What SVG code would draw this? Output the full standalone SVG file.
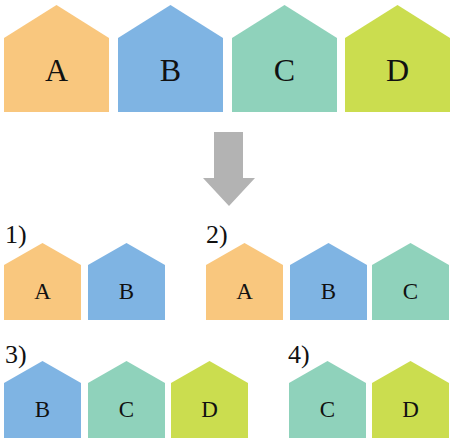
<svg xmlns="http://www.w3.org/2000/svg" width="453" height="444" viewBox="0 0 453 444">
<style>
.a{fill:#F9C77E}.b{fill:#7FB4E3}.c{fill:#8FD2BB}.d{fill:#CBDD4F}
text{font-family:"Liberation Serif","Times New Roman","DejaVu Serif",serif;fill:#111111;text-anchor:middle}
.big{font-size:32px}.sm{font-size:23px}
.lbl{font-size:26px;text-anchor:start}
</style>
<defs>
<path id="hb" d="M0,33 L52.5,0 L105,33 L105,107 L0,107 Z"/>
<path id="hs" d="M0,22 L38.5,0 L77,22 L77,77 L0,77 Z"/>
</defs>
<g id="top-A"><use href="#hb" class="a" x="4" y="5"/><text class="big" x="56.5" y="81" font-family="Liberation Serif, serif">A</text></g>
<g id="top-B"><use href="#hb" class="b" x="118" y="5"/><text class="big" x="170.5" y="81">B</text></g>
<g id="top-C"><use href="#hb" class="c" x="232" y="5"/><text class="big" x="284.5" y="81">C</text></g>
<g id="top-D"><use href="#hb" class="d" x="345" y="5"/><text class="big" x="397.5" y="81">D</text></g>
<g id="arrow"><path d="M214,132 L243,132 L243,178 L255,178 L229,206 L203,178 L214,178 Z" fill="#B3B3B3"/></g>
<g id="opt1">
<text class="lbl" x="5" y="243">1)</text>
<g id="o1-A"><use href="#hs" class="a" x="4" y="243"/><text class="sm" x="42.5" y="299">A</text></g>
<g id="o1-B"><use href="#hs" class="b" x="88" y="243"/><text class="sm" x="126.5" y="299">B</text></g>
</g>
<g id="opt2">
<text class="lbl" x="206" y="243">2)</text>
<g id="o2-A"><use href="#hs" class="a" x="206" y="243"/><text class="sm" x="244.5" y="299">A</text></g>
<g id="o2-B"><use href="#hs" class="b" x="290" y="243"/><text class="sm" x="328.5" y="299">B</text></g>
<g id="o2-C"><use href="#hs" class="c" x="372" y="243"/><text class="sm" x="410.5" y="299">C</text></g>
</g>
<g id="opt3">
<text class="lbl" x="5" y="363">3)</text>
<g id="o3-B"><use href="#hs" class="b" x="4" y="361"/><text class="sm" x="42.5" y="417">B</text></g>
<g id="o3-C"><use href="#hs" class="c" x="88" y="361"/><text class="sm" x="126.5" y="417">C</text></g>
<g id="o3-D"><use href="#hs" class="d" x="171" y="361"/><text class="sm" x="209.5" y="417">D</text></g>
</g>
<g id="opt4">
<text class="lbl" x="288" y="363">4)</text>
<g id="o4-C"><use href="#hs" class="c" x="289" y="361"/><text class="sm" x="327.5" y="417">C</text></g>
<g id="o4-D"><use href="#hs" class="d" x="372" y="361"/><text class="sm" x="410.5" y="417">D</text></g>
</g>
</svg>
